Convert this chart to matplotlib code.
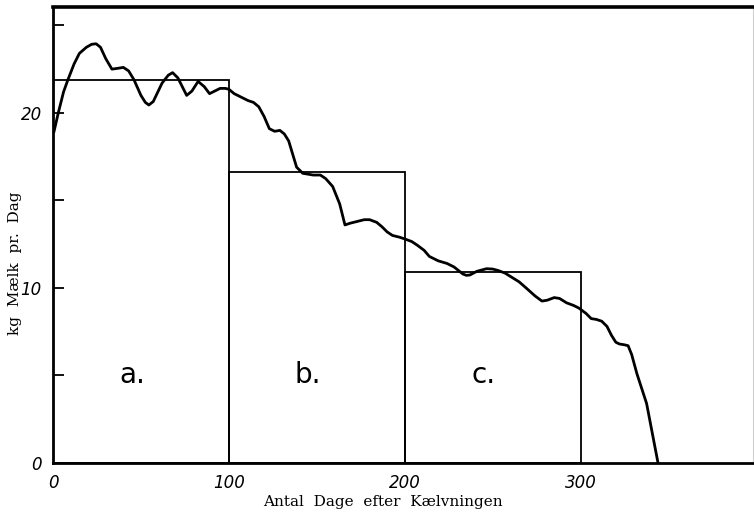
import matplotlib
matplotlib.use("Agg")
import matplotlib.pyplot as plt

# Mælkeydelse (kg pr. dag) aflæst fra kurven
dage = [0.5, 3, 6, 8.5, 12, 15, 19, 22, 24.5, 27, 30, 33.5, 37, 40, 43, 46,
        50, 52.5, 54.5, 57, 62, 65.5, 68, 71, 76, 79, 82.5, 86, 89, 92, 95,
        98, 100, 103, 107, 111, 114, 117, 120, 123, 126, 129, 131.5, 134,
        138.5, 142, 145, 148, 152, 155, 159, 163, 166, 169, 173, 177, 180,
        184, 187, 190, 193, 197, 200, 204, 207, 211, 214, 219, 224, 228, 233,
        235, 237, 241, 246.5, 250, 253, 257, 261, 265, 269, 274, 278, 281,
        285, 288, 292, 296, 299, 303, 306, 309, 312, 315, 317.5, 320, 322,
        325, 327, 329, 332, 337.5, 344]
maelk = [18.9, 20.0, 21.2, 21.9, 22.8, 23.4, 23.75, 23.92, 23.95, 23.75, 23.1,
         22.5, 22.55, 22.6, 22.4, 21.9, 21.0, 20.6, 20.45, 20.65, 21.7, 22.15,
         22.3, 22.0, 21.0, 21.25, 21.8, 21.5, 21.1, 21.25, 21.4, 21.4, 21.35,
         21.1, 20.9, 20.7, 20.6, 20.35, 19.8, 19.1, 18.95, 19.0, 18.8, 18.4,
         16.9, 16.55, 16.5, 16.45, 16.45, 16.25, 15.8, 14.8, 13.6, 13.7, 13.8,
         13.9, 13.9, 13.75, 13.5, 13.2, 13.0, 12.9, 12.8, 12.65, 12.45, 12.15,
         11.8, 11.55, 11.4, 11.2, 10.8, 10.72, 10.74, 10.95, 11.1, 11.08, 11.0,
         10.85, 10.6, 10.35, 10.0, 9.55, 9.25, 9.3, 9.45, 9.4, 9.15, 9.0, 8.85,
         8.55, 8.25, 8.2, 8.1, 7.8, 7.3, 6.9, 6.8, 6.75, 6.7, 6.2, 5.1, 3.4, 0.0]

# Gennemsnit for hver periode
perioder = ["a.", "b.", "c."]
start = [0, 100, 200]
bredde = [100, 100, 100]
gennemsnit = [21.9, 16.6, 10.9]

fig = plt.figure(figsize=(7.54, 5.15), dpi=100)
ax = fig.add_axes([53 / 754, 52 / 515, 700 / 754, 456 / 515])

# søjlerne som åbne rektangler
ax.bar(start, gennemsnit, width=bredde, align="edge", fill=False,
       edgecolor="black", linewidth=1.3)
for navn, s, b in zip(perioder, start, bredde):
    ax.text(s + b * 0.45, 5.0, navn, fontsize=20, ha="center", va="center",
            family="DejaVu Sans")

ax.plot(dage, maelk, color="black", linewidth=2.0, solid_joinstyle="round",
        solid_capstyle="round")

ax.set_xlim(0, 398)
ax.set_ylim(0, 26.05)

ax.set_xticks([0, 100, 200, 300])
ax.set_xticklabels(["0", "100", "200", "300"], fontsize=12, style="italic",
                   fontweight="light")
ax.set_yticks([0, 5, 10, 15, 20, 25])
ax.set_yticklabels(["0", "", "10", "", "20", ""], fontsize=12, style="italic",
                   fontweight="light")
ax.tick_params(axis="x", length=0, pad=8)
ax.tick_params(axis="y", direction="in", length=8, width=1.3, pad=8)

for side in ["left", "bottom"]:
    ax.spines[side].set_linewidth(2.0)
ax.spines["top"].set_linewidth(2.6)
ax.spines["right"].set_linewidth(0.8)
ax.spines["right"].set_color("#cfcfcf")

fig.text(383 / 754, 1 - 502 / 515, "Antal  Dage  efter  Kælvningen", fontsize=11,
         family="DejaVu Serif", ha="center", va="center")
fig.text(15 / 754, 1 - 263 / 515, "kg  Mælk  pr.  Dag", fontsize=11,
         family="DejaVu Serif", rotation=90, ha="center", va="center")

fig.savefig("out.png", dpi=100)
